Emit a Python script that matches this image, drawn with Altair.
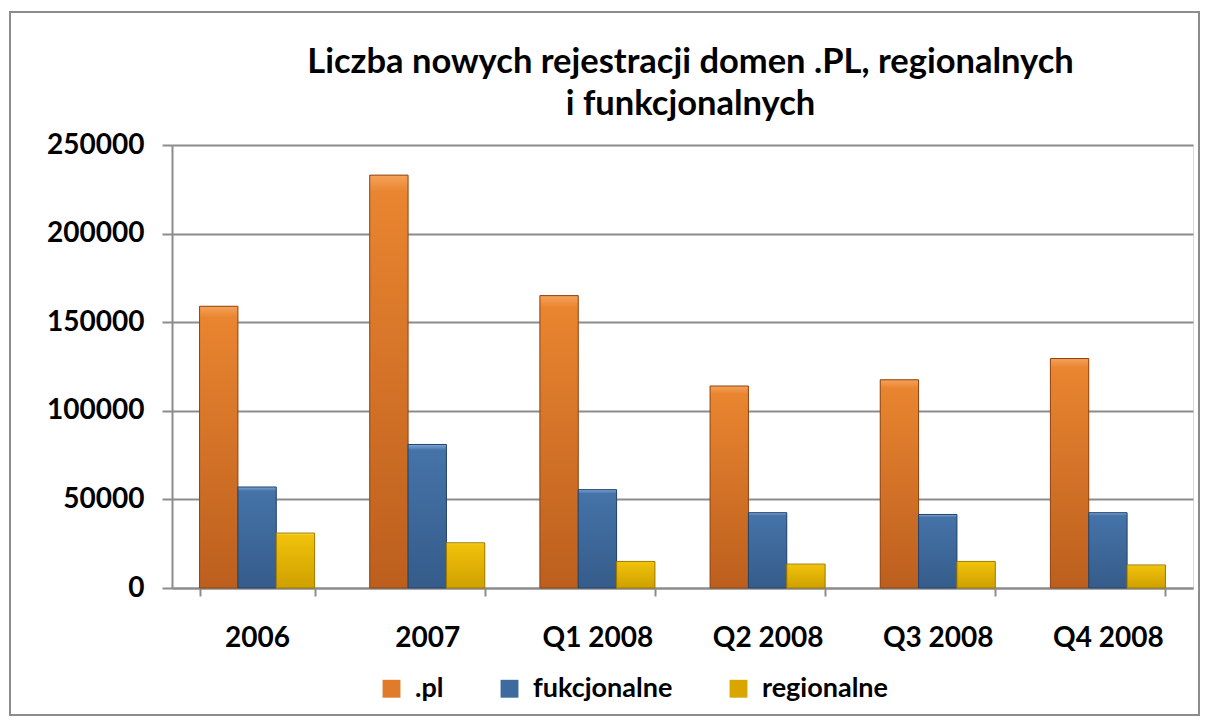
import altair as alt
import pandas as pd

categories = ["2006", "2007", "Q1 2008", "Q2 2008", "Q3 2008", "Q4 2008"]
series_names = [".pl", "fukcjonalne", "regionalne"]
pl_values = [159000, 233000, 165000, 114000, 117500, 129500]
fukc_values = [57000, 81000, 55500, 42500, 41500, 42500]
reg_values = [31000, 25500, 15000, 13500, 15000, 13000]
y_ticks = [0, 50000, 100000, 150000, 200000, 250000]
title_lines = ["Liczba nowych rejestracji domen .PL, regionalnych", "i funkcjonalnych"]

flat_colors = ["#E07B2B", "#3E6A9E", "#D9A600"]
grad_specs = [
    ("#F6A25A", "#E98530", "#BC5F1E", "#8E4412"),
    ("#7EA6D8", "#4573A8", "#355C8A", "#24436A"),
    ("#FFE866", "#F0C20A", "#CFA000", "#9E7A00"),
]

rows = []
for name, vals in zip(series_names, [pl_values, fukc_values, reg_values]):
    for c, v in zip(categories, vals):
        rows.append({"kategoria": c, "seria": name, "wartosc": v})
df = pd.DataFrame(rows)

FONT = "Lato"
W, H = 1021, 443

x_enc = alt.X("kategoria:N", sort=categories,
              scale=alt.Scale(paddingInner=0.324, paddingOuter=0.162),
              axis=alt.Axis(title=None, labelAngle=0, tickBand="extent", tickSize=8,
                            tickColor="#8C8C8C", domainColor="#8C8C8C", domainWidth=2, tickWidth=2,
                            labelFont=FONT, labelFontSize=28, labelFontWeight="bold",
                            labelColor="#000000", labelPadding=28, grid=False))
xo_enc = alt.XOffset("seria:N", scale=alt.Scale(domain=series_names, paddingInner=0))
y_enc = alt.Y("wartosc:Q",
              scale=alt.Scale(domain=[0, 250000], nice=False),
              axis=alt.Axis(title=None, values=y_ticks, tickSize=10, tickColor="#8C8C8C", tickWidth=2,
                            domainColor="#8C8C8C", domainWidth=2,
                            gridColor="#8C8C8C", gridWidth=2,
                            labelFont=FONT, labelFontSize=28, labelFontWeight="bold",
                            labelColor="#000000", labelPadding=18, format="d"))

base = alt.Chart(df)

legend_layer = base.mark_bar().encode(
    x=x_enc, xOffset=xo_enc, y=y_enc,
    color=alt.Color("seria:N", scale=alt.Scale(domain=series_names, range=flat_colors),
                    legend=alt.Legend(title=None, orient="none", legendX=206, legendY=530,
                                      direction="horizontal", symbolType="square",
                                      symbolSize=320, symbolStrokeWidth=0,
                                      labelFont=FONT, labelFontSize=27, labelFontWeight="bold",
                                      labelColor="#000000", columnPadding=52, labelOffset=10,
                                      padding=0)),
)

layers = []
border = alt.Chart(pd.DataFrame({"a": [0]})).mark_rect(
    fill="transparent", stroke="#8C8C8C", strokeWidth=2
).encode(x=alt.value(-162), x2=alt.value(W + 6), y=alt.value(-133), y2=alt.value(H + 127))
layers.append(border)

title_layer = alt.Chart(pd.DataFrame({"a": [0]})).mark_text(
    text=title_lines, font=FONT, fontSize=34.5, fontWeight="bold", color="#000000",
    align="center", baseline="top", lineHeight=42
).encode(x=alt.value(W / 2 + 8), y=alt.value(-99))
layers.append(title_layer)
layers.append(legend_layer)

for name, (light, mid, dark, edge) in zip(series_names, grad_specs):
    grad = alt.Gradient(
        gradient="linear", x1=0, y1=0, x2=0, y2=1,
        stops=[alt.GradientStop(color=light, offset=0),
               alt.GradientStop(color=mid, offset=0.04),
               alt.GradientStop(color=dark, offset=1)],
    )
    layers.append(
        base.transform_filter(alt.datum.seria == name).mark_bar(
            fill=grad, stroke=edge, strokeWidth=1
        ).encode(x=x_enc, xOffset=xo_enc, y=y_enc)
    )

chart = alt.layer(*layers).properties(
    width=W, height=H,
    padding={"left": 164, "top": 137, "right": 7, "bottom": 128},
    autosize=alt.AutoSizeParams(type="none"),
).configure_view(strokeWidth=0).configure(background="white")

chart.save("out.html", embed_options={"renderer": "svg", "actions": False})
